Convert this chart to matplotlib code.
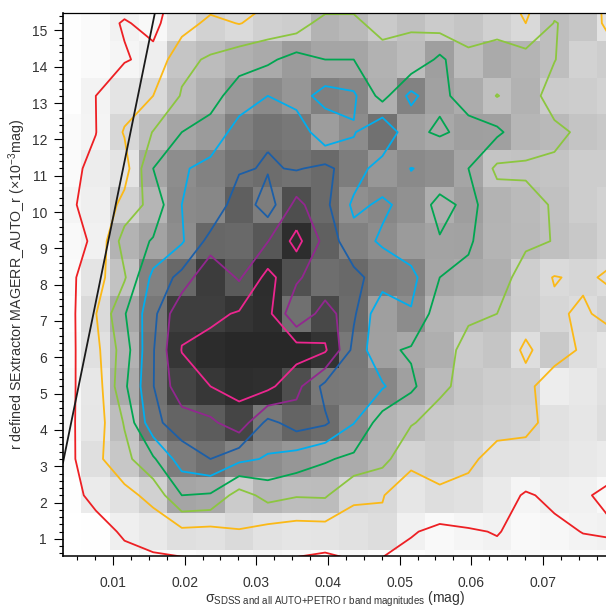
import numpy as np
import matplotlib
matplotlib.use('Agg')
import matplotlib.pyplot as plt

plt.rcParams['font.family'] = ['Liberation Sans', 'DejaVu Sans']
plt.rcParams['mathtext.fontset'] = 'custom'
plt.rcParams['mathtext.rm'] = 'Liberation Sans'
plt.rcParams['mathtext.it'] = 'Liberation Sans'

# bin centres of the 2D histogram
x_centers = [0.0036, 0.0076, 0.0116, 0.0156, 0.0196, 0.0236, 0.0276, 0.0316, 0.0356, 0.0396,
             0.0436, 0.0476, 0.0516, 0.0556, 0.0596, 0.0636, 0.0676, 0.0716, 0.0756, 0.0796]
y_centers = [16.2, 15.2, 14.2, 13.2, 12.2, 11.2, 10.2, 9.2, 8.2, 7.2, 6.2, 5.2, 4.2, 3.2, 2.2, 1.2, 0.2]

# shade of each bin, top row first (top row is above the visible range)
shade = [
    [255, 252, 255, 250, 238, 240, 235, 225, 222, 227, 209, 210, 210, 210, 210, 212, 228, 205, 205, 225],
    [254, 250, 241.5, 248, 229, 210, 218, 208, 205, 179, 185, 202, 192, 203, 197, 208, 217, 190, 198, 227],
    [254, 250, 244.5, 238, 197, 188, 176, 170, 155, 165, 165, 178, 188, 159, 188, 170, 180, 190, 210, 205],
    [254, 243, 228, 217, 189, 175, 152, 138, 149.5, 128, 134, 175, 130, 161, 172, 192, 178, 203, 205, 210],
    [250, 243.5, 215, 190, 165, 155, 127, 115, 120, 157, 140, 113, 160, 168, 159, 160, 182, 185, 196, 200],
    [250, 237, 228, 165, 141, 130, 115.4, 109.5, 114, 106, 125, 151, 137.5, 143, 165, 196, 193.5, 196, 205, 205],
    [245, 239, 209, 181, 138, 135, 95, 125, 78, 106, 143, 134.5, 145, 174, 158, 179, 186, 192.4, 205, 210],
    [249, 240.5, 178.5, 163, 141, 103, 105, 87, 45, 96, 129, 141, 155, 163, 162, 180, 185, 192, 200, 210],
    [250, 228, 194, 130, 104, 60, 90, 45, 80, 110, 105, 124, 130, 165, 170, 175, 206, 218, 214, 220],
    [253, 218, 167, 120, 62, 62, 52, 46, 112, 72, 108, 159, 140, 180, 185, 191, 205, 214, 220, 210],
    [251, 224, 178, 114, 54, 44, 40, 40, 40, 51, 120, 160, 168, 175, 203, 197, 222, 201, 222, 228],
    [248, 231, 170, 113, 68, 55, 45, 47, 78, 120, 122, 135, 160, 186, 199, 205, 208, 237, 232, 225],
    [248, 230, 189, 118, 100, 92, 69, 120, 100, 108, 137, 179, 189, 201, 203, 208, 211, 225, 230, 222],
    [251, 223, 199, 169, 124, 112, 131, 141, 150, 162, 171, 183, 211, 205, 212, 226, 226, 228, 232, 235],
    [254, 235, 225, 209, 165, 168, 203, 182, 189, 188, 214, 216, 230, 222, 225, 234, 245, 239, 241, 247.5],
    [255, 254, 239, 232.5, 223, 225, 218, 226, 229, 228, 225, 221, 241, 248.6, 245, 242, 249, 247, 242.5, 241],
    [255, 255, 255, 251, 252, 249, 249, 246, 249, 254, 248, 252, 253, 250, 252, 250, 248, 252, 252, 252],
]

# contour levels (in shade units) and their colours
contour_levels = [55, 86, 112, 138, 165, 191, 217, 243]
contour_colors = ['#ec268f', '#92278f', '#1c5fa8', '#00aeef', '#00a651', '#8cc63f', '#fbb917', '#ed2024']

# black reference line
line_x = [0.00302, 0.01586]
line_y = [3.1, 15.5]

x_ticks = [0.01, 0.02, 0.03, 0.04, 0.05, 0.06, 0.07]
y_ticks = list(range(1, 16))

img = np.array(shade, dtype=float)
xc = np.array(x_centers)
yc = np.array(y_centers)

fig = plt.figure(figsize=(6.06, 6.09), dpi=100)
ax = fig.add_axes([63 / 606, (609 - 556.3) / 609, (606 - 63) / 606, (556.3 - 12.7) / 609])

x_edges = np.append(xc - 0.002, xc[-1] + 0.002)
y_edges = np.append(yc + 0.5, yc[-1] - 0.5)
ax.pcolormesh(x_edges, y_edges, img, cmap='gray', vmin=0, vmax=255, shading='flat')
ax.contour(xc, yc, img, levels=contour_levels, colors=contour_colors, linewidths=1.3)
ax.plot(line_x, line_y, color='#1a1a1a', lw=1.3)

ax.set_xlim(0.00302, 0.0788)
ax.set_ylim(0.52, 15.49)
ax.set_xticks(x_ticks)
ax.set_xticklabels(['%.2f' % v for v in x_ticks])
ax.set_yticks(y_ticks)
ax.set_xticks(np.arange(0.005, 0.079, 0.0025), minor=True)
ax.set_yticks(np.arange(0.6, 15.5, 0.2), minor=True)
ax.tick_params(which='major', length=6.5, width=0.8, labelsize=10, labelcolor='#333333')
ax.tick_params(axis='x', which='major', pad=8)
ax.tick_params(axis='y', which='major', pad=5)
ax.tick_params(which='minor', length=3, width=0.8)
ax.spines['right'].set_visible(False)
ax.spines['left'].set_linewidth(1.2)
ax.spines['bottom'].set_linewidth(1.1)
ax.spines['top'].set_linewidth(0.9)

fig.text(335 / 606, 1 - 599 / 609,
         r'$\mathrm{\sigma_{SDSS\ and\ all\ AUTO{+}PETRO\ r\ band\ magnitudes}}$ (mag)',
         fontsize=10, color='#333333', ha='center', va='center')
fig.text(17 / 606, 1 - 284 / 609,
         r'r defined SExtractor MAGERR_AUTO_r ($\times$10$^{-3}$mag)',
         fontsize=10.3, color='#333333', rotation=90, ha='center', va='center')

fig.savefig('out.png', dpi=100)
